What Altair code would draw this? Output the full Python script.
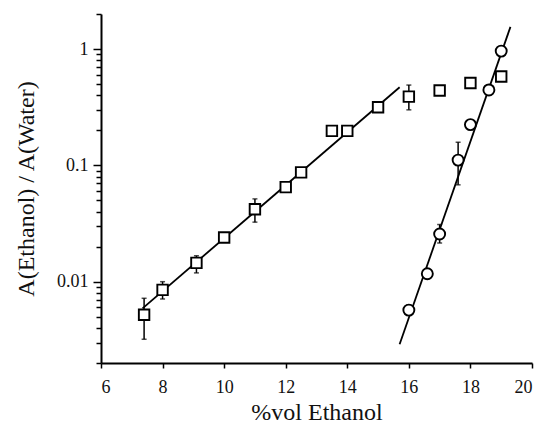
import altair as alt
import pandas as pd

# squares series
sq_x = [7.4, 8.0, 9.1, 10.0, 11.0, 12.0, 12.5, 13.5, 14.0, 15.0, 16.0, 17.0, 18.0, 19.0]
sq_y = [0.0052, 0.0085, 0.0145, 0.024, 0.042, 0.065, 0.087, 0.198, 0.198, 0.316, 0.39, 0.44, 0.51, 0.58]
# square error bars
sqe_x = [7.4, 8.0, 9.1, 11.0, 15.0, 16.0, 17.0, 18.0]
sqe_lo = [0.0032, 0.0071, 0.0119, 0.0325, 0.29, 0.30, 0.41, 0.48]
sqe_hi = [0.0072, 0.0100, 0.0167, 0.0515, 0.34, 0.49, 0.47, 0.54]

# circles series
ci_x = [16.0, 16.6, 17.0, 17.6, 18.0, 18.6, 19.0]
ci_y = [0.0057, 0.0117, 0.0257, 0.111, 0.224, 0.445, 0.96]
cie_x = [16.0, 17.0, 17.6]
cie_lo = [0.0052, 0.0215, 0.068]
cie_hi = [0.0063, 0.031, 0.158]

# fitted lines (end points)
fit1_x = [7.35, 15.7]
fit1_y = [0.0059, 0.469]
fit2_x = [15.7, 19.3]
fit2_y = [0.0029, 1.55]

x_ticks = list(range(6, 21))
y_ticks = [m * 10.0 ** e for e in (-3, -2, -1) for m in range(1, 10)] + [1.0, 2.0]
y_ticks = [v for v in y_ticks if v >= 0.002]

sq = pd.DataFrame({"x": sq_x, "y": sq_y})
sqe = pd.DataFrame({"x": sqe_x, "lo": sqe_lo, "hi": sqe_hi})
ci = pd.DataFrame({"x": ci_x, "y": ci_y})
cie = pd.DataFrame({"x": cie_x, "lo": cie_lo, "hi": cie_hi})
f1 = pd.DataFrame({"x": fit1_x, "y": fit1_y})
f2 = pd.DataFrame({"x": fit2_x, "y": fit2_y})
err = pd.concat([sqe, cie], ignore_index=True)

is_decade = "abs(log(datum.value)/LN10 - round(log(datum.value)/LN10)) < 1e-6"
FONT = "Liberation Serif, Times New Roman, serif"

xscale = alt.Scale(domain=[6, 20], nice=False, zero=False)
yscale = alt.Scale(type="log", domain=[0.002, 2], nice=False)

xaxis = alt.Axis(
    title="%vol Ethanol", values=x_ticks,
    labelExpr="datum.value % 2 == 0 ? format(datum.value, 'd') : ''",
    tickSize=5, grid=False, labelPadding=10, titlePadding=4, titleFontSize=24,
)
yaxis = alt.Axis(
    title="A(Ethanol) / A(Water)", values=y_ticks,
    labelExpr=is_decade + " ? format(datum.value, '~g') : ''",
    tickSize={"condition": {"test": is_decade, "value": 8}, "value": 5},
    grid=False, labelPadding=5, titlePadding=18, titleFontSize=24,
)

X = alt.X("x:Q", scale=xscale, axis=xaxis)
Y = alt.Y("y:Q", scale=yscale, axis=yaxis)

line1 = alt.Chart(f1).mark_line(color="black", strokeWidth=1.8).encode(x=X, y=Y)
line2 = alt.Chart(f2).mark_line(color="black", strokeWidth=1.8).encode(x=X, y=Y)

bars = alt.Chart(err).mark_rule(color="black", strokeWidth=1.5).encode(
    x=alt.X("x:Q", scale=xscale), y=alt.Y("lo:Q", scale=yscale), y2="hi:Q")
cap_lo = alt.Chart(err).mark_tick(color="black", orient="horizontal", size=5, thickness=1.5).encode(
    x=alt.X("x:Q", scale=xscale), y=alt.Y("lo:Q", scale=yscale))
cap_hi = alt.Chart(err).mark_tick(color="black", orient="horizontal", size=5, thickness=1.5).encode(
    x=alt.X("x:Q", scale=xscale), y=alt.Y("hi:Q", scale=yscale))

squares = alt.Chart(sq).mark_point(shape="square", filled=True, fill="white", stroke="black",
                                   strokeWidth=1.9, size=110, opacity=1).encode(x=X, y=Y)
circles = alt.Chart(ci).mark_point(shape="circle", filled=True, fill="white", stroke="black",
                                   strokeWidth=1.9, size=121, opacity=1).encode(x=X, y=Y)

chart = alt.layer(line1, line2, bars, cap_lo, cap_hi, squares, circles).properties(
    width=431, height=349,
    autosize=alt.AutoSizeParams(type="none"),
    padding={"left": 93, "top": 6, "right": 7, "bottom": 65},
).configure(font=FONT).configure_view(stroke=None).configure_axis(
    domainColor="black", domainWidth=2, tickColor="black", tickWidth=1.5,
    labelFont=FONT, titleFont=FONT,
    labelFontSize=18, labelColor="#111", titleColor="#111",
    titleFontWeight="normal",
)

chart.save("out.html", embed_options={"renderer": "svg", "actions": False})
